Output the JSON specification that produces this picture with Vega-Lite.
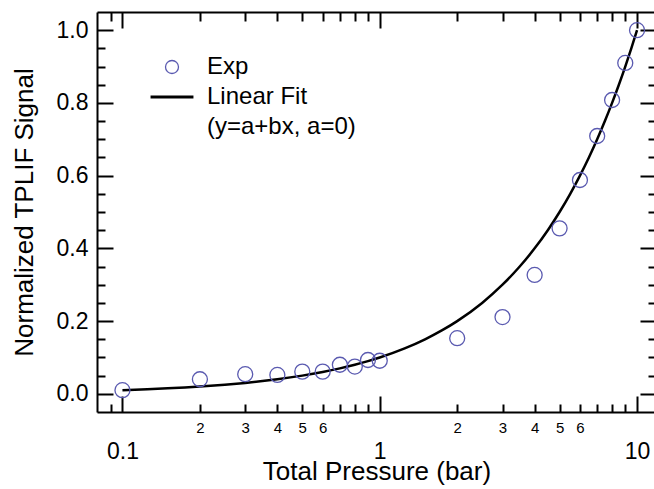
{
  "$schema": "https://vega.github.io/schema/vega-lite/v6.json",
  "width": 559,
  "height": 400,
  "autosize": "none",
  "padding": {"left": 97, "top": 12, "right": 0, "bottom": 77},
  "background": "white",
  "config": {
    "font": "Liberation Sans",
    "view": {"stroke": null},
    "axis": {
      "grid": false,
      "domainColor": "black",
      "tickColor": "black",
      "labelColor": "black",
      "titleColor": "black",
      "domainWidth": 2,
      "tickWidth": 2,
      "labelFont": "Liberation Sans",
      "titleFont": "Liberation Sans",
      "titleFontWeight": "normal",
      "labelFlush": false,
      "labelOverlap": false
    }
  },
  "datasets": {
    "exp": [
      {"p": 0.1, "s": 0.01, "series": "Exp"},
      {"p": 0.2, "s": 0.04, "series": "Exp"},
      {"p": 0.3, "s": 0.054, "series": "Exp"},
      {"p": 0.4, "s": 0.052, "series": "Exp"},
      {"p": 0.5, "s": 0.061, "series": "Exp"},
      {"p": 0.6, "s": 0.061, "series": "Exp"},
      {"p": 0.7, "s": 0.08, "series": "Exp"},
      {"p": 0.8, "s": 0.075, "series": "Exp"},
      {"p": 0.9, "s": 0.093, "series": "Exp"},
      {"p": 1, "s": 0.091, "series": "Exp"},
      {"p": 2, "s": 0.153, "series": "Exp"},
      {"p": 3, "s": 0.211, "series": "Exp"},
      {"p": 4, "s": 0.327, "series": "Exp"},
      {"p": 5, "s": 0.455, "series": "Exp"},
      {"p": 6, "s": 0.588, "series": "Exp"},
      {"p": 7, "s": 0.709, "series": "Exp"},
      {"p": 8, "s": 0.808, "series": "Exp"},
      {"p": 9, "s": 0.91, "series": "Exp"},
      {"p": 10, "s": 1.0, "series": "Exp"}
    ],
    "fit": [
      {"p": 0.1, "s": 0.01, "series": "Linear Fit"},
      {"p": 0.125, "s": 0.0125, "series": "Linear Fit"},
      {"p": 0.15, "s": 0.015, "series": "Linear Fit"},
      {"p": 0.175, "s": 0.0175, "series": "Linear Fit"},
      {"p": 0.2, "s": 0.02, "series": "Linear Fit"},
      {"p": 0.25, "s": 0.025, "series": "Linear Fit"},
      {"p": 0.3, "s": 0.03, "series": "Linear Fit"},
      {"p": 0.35, "s": 0.035, "series": "Linear Fit"},
      {"p": 0.4, "s": 0.04, "series": "Linear Fit"},
      {"p": 0.5, "s": 0.05, "series": "Linear Fit"},
      {"p": 0.6, "s": 0.06, "series": "Linear Fit"},
      {"p": 0.7, "s": 0.07, "series": "Linear Fit"},
      {"p": 0.8, "s": 0.08, "series": "Linear Fit"},
      {"p": 0.9, "s": 0.09, "series": "Linear Fit"},
      {"p": 1, "s": 0.1, "series": "Linear Fit"},
      {"p": 1.25, "s": 0.125, "series": "Linear Fit"},
      {"p": 1.5, "s": 0.15, "series": "Linear Fit"},
      {"p": 1.75, "s": 0.175, "series": "Linear Fit"},
      {"p": 2, "s": 0.2, "series": "Linear Fit"},
      {"p": 2.5, "s": 0.25, "series": "Linear Fit"},
      {"p": 3, "s": 0.3, "series": "Linear Fit"},
      {"p": 3.5, "s": 0.35, "series": "Linear Fit"},
      {"p": 4, "s": 0.4, "series": "Linear Fit"},
      {"p": 4.5, "s": 0.45, "series": "Linear Fit"},
      {"p": 5, "s": 0.5, "series": "Linear Fit"},
      {"p": 5.5, "s": 0.55, "series": "Linear Fit"},
      {"p": 6, "s": 0.6, "series": "Linear Fit"},
      {"p": 6.5, "s": 0.65, "series": "Linear Fit"},
      {"p": 7, "s": 0.7, "series": "Linear Fit"},
      {"p": 7.5, "s": 0.75, "series": "Linear Fit"},
      {"p": 8, "s": 0.8, "series": "Linear Fit"},
      {"p": 8.5, "s": 0.85, "series": "Linear Fit"},
      {"p": 9, "s": 0.9, "series": "Linear Fit"},
      {"p": 9.5, "s": 0.95, "series": "Linear Fit"},
      {"p": 10, "s": 1.0, "series": "Linear Fit"}
    ]
  },
  "resolve": {"axis": {"x": "independent", "y": "independent"}},
  "layer": [
    {
      "data": {"name": "fit"},
      "mark": {"type": "line", "strokeWidth": 2.5, "interpolate": "monotone"},
      "encoding": {
        "x": {
          "field": "p", "type": "quantitative",
          "scale": {"type": "log", "domain": [0.07963, 11.85], "nice": false},
          "axis": {
            "orient": "bottom", "values": [0.1, 1, 10], "format": "~g",
            "tickSize": -16, "labelFontSize": 23, "labelPadding": 44,
            "title": "Total Pressure (bar)", "titleFontSize": 26, "titlePadding": -5
          }
        },
        "y": {
          "field": "s", "type": "quantitative",
          "scale": {"domain": [-0.05, 1.05], "nice": false, "zero": false},
          "axis": {
            "orient": "left", "values": [0, 0.2, 0.4, 0.6, 0.8, 1.0], "format": ".1f",
            "tickSize": -16, "labelFontSize": 23, "labelPadding": 25,
            "title": "Normalized TPLIF Signal", "titleFontSize": 26, "titlePadding": 19
          }
        },
        "color": {
          "field": "series", "type": "nominal",
          "scale": {"domain": ["Exp", "Linear Fit", "(y=a+bx, a=0)"], "range": ["#5a5ab0", "black", "rgba(0,0,0,0)"]},
          "legend": {
            "title": null, "orient": "none", "legendX": 63, "legendY": 43, "padding": 0,
            "symbolSize": 169, "labelFontSize": 24, "labelOffset": 23, "rowPadding": 6,
            "labelColor": "black", "labelFont": "Liberation Sans", "labelLimit": 400,
            "encode": {
              "symbols": {
                "update": {
                  "shape": {"signal": "datum.value === 'Linear Fit' ? 'M-3.3,0H3.3' : 'circle'"},
                  "fill": {"value": "transparent"},
                  "fillOpacity": {"value": 0},
                  "opacity": {"value": 1},
                  "strokeOpacity": {"value": 1},
                  "stroke": {"signal": "datum.value === 'Exp' ? '#5a5ab0' : datum.value === 'Linear Fit' ? 'black' : 'transparent'"},
                  "strokeWidth": {"signal": "datum.value === 'Linear Fit' ? 3 : 1.3"}
                }
              }
            }
          }
        }
      }
    },
    {
      "data": {"name": "exp"},
      "mark": {"type": "point", "filled": false, "size": 225, "strokeWidth": 1.3, "opacity": 1},
      "encoding": {
        "x": {
          "field": "p", "type": "quantitative",
          "axis": {
            "orient": "bottom", "values": [0.09, 0.2, 0.3, 0.4, 0.5, 0.6, 0.7, 0.8, 0.9, 2, 3, 4, 5, 6, 7, 8, 9],
            "labelExpr": "(datum.value >= 0.15 && datum.value <= 0.65) ? '' + round(datum.value * 10) : (datum.value >= 1.5 && datum.value <= 6.5) ? '' + round(datum.value) : ''",
            "tickSize": -8, "labelFontSize": 15, "labelPadding": 16, "title": null, "domain": false
          }
        },
        "y": {
          "field": "s", "type": "quantitative",
          "axis": {
            "orient": "left", "values": [0.05, 0.1, 0.15, 0.25, 0.3, 0.35, 0.45, 0.5, 0.55, 0.65, 0.7, 0.75, 0.85, 0.9, 0.95],
            "tickSize": -8, "labels": false, "title": null, "domain": false
          }
        },
        "color": {"field": "series", "type": "nominal"}
      }
    },
    {
      "data": {"name": "exp"},
      "mark": {"type": "point", "opacity": 0},
      "encoding": {
        "x": {
          "field": "p", "type": "quantitative",
          "axis": {"orient": "top", "values": [0.1, 1, 10], "tickSize": -16, "labels": false, "title": null}
        },
        "y": {
          "field": "s", "type": "quantitative",
          "axis": {"orient": "right", "values": [0, 0.2, 0.4, 0.6, 0.8, 1.0], "tickSize": -16, "labels": false, "title": null}
        }
      }
    },
    {
      "data": {"name": "exp"},
      "mark": {"type": "point", "opacity": 0},
      "encoding": {
        "x": {
          "field": "p", "type": "quantitative",
          "axis": {"orient": "top", "values": [0.09, 0.2, 0.3, 0.4, 0.5, 0.6, 0.7, 0.8, 0.9, 2, 3, 4, 5, 6, 7, 8, 9], "tickSize": -9, "labels": false, "title": null, "domain": false}
        },
        "y": {
          "field": "s", "type": "quantitative",
          "axis": {"orient": "right", "values": [0.05, 0.1, 0.15, 0.25, 0.3, 0.35, 0.45, 0.5, 0.55, 0.65, 0.7, 0.75, 0.85, 0.9, 0.95], "tickSize": -8, "labels": false, "title": null, "domain": false}
        }
      }
    }
  ]
}
